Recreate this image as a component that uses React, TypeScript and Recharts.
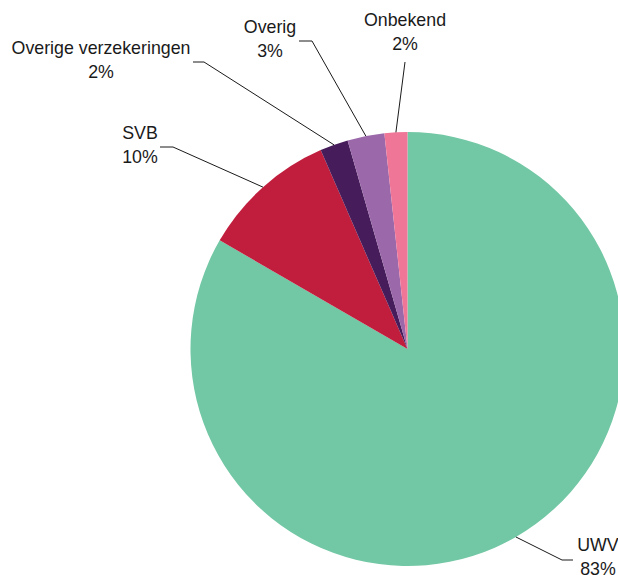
import { PieChart, Pie, Cell } from 'recharts';

const categories = ['UWV', 'SVB', 'Overige verzekeringen', 'Overig', 'Onbekend'];
const shares = [83.35, 10.1, 2.1, 2.75, 1.7];
const colors = ['#72C7A5', '#C11E3E', '#461C5A', '#9B69AA', '#F07698'];

// label placement (text centre of first line, elbow and end of the leader line)
const labelLayout = [
  { tx: 598, ty: 545, ex: 562, ey: 560, hx: 573, hy: 560 },
  { tx: 140, ty: 133, ex: 173, ey: 147, hx: 160, hy: 147 },
  { tx: 101, ty: 48, ex: 204, ey: 62, hx: 193, hy: 62 },
  { tx: 270, ty: 27, ex: 312, ey: 41, hx: 299, hy: 41 },
  { tx: 405, ty: 20, ex: 405, ey: 62, hx: 405, hy: 62 },
];

const data = categories.map((name, i) => ({ name, value: shares[i] }));

const RADIAN = Math.PI / 180;

function renderLabel(props: any) {
  const { cx, cy, midAngle, outerRadius, percent, index, name } = props;
  const l = labelLayout[index];
  const sx = cx + outerRadius * Math.cos(-midAngle * RADIAN);
  const sy = cy + outerRadius * Math.sin(-midAngle * RADIAN);
  return (
    <g key={`lbl-${index}`}>
      <path
        d={`M${sx},${sy}L${l.ex},${l.ey}L${l.hx},${l.hy}`}
        stroke="#1a1a1a"
        strokeWidth={1}
        fill="none"
      />
      <text
        x={l.tx}
        y={l.ty}
        textAnchor="middle"
        dominantBaseline="central"
        fill="#1a1a1a"
        style={{ fontFamily: 'Liberation Sans, Arial, sans-serif', fontSize: 17.8 }}
      >
        {name}
      </text>
      <text
        x={l.tx}
        y={l.ty + 24}
        textAnchor="middle"
        dominantBaseline="central"
        fill="#1a1a1a"
        style={{ fontFamily: 'Liberation Sans, Arial, sans-serif', fontSize: 17.8 }}
      >
        {`${Math.round(percent * 100)}%`}
      </text>
    </g>
  );
}

export default function App() {
  return (
    <div style={{ position: 'absolute', left: 0, top: 0, width: 618, height: 575, background: '#fff' }}>
      <PieChart width={618} height={575} margin={{ top: 0, right: 0, bottom: 0, left: 0 }}>
        <Pie
          data={data}
          dataKey="value"
          nameKey="name"
          cx={407.5}
          cy={349}
          outerRadius={217}
          startAngle={90}
          endAngle={-270}
          stroke="none"
          label={renderLabel}
          labelLine={false}
          isAnimationActive={false}
        >
          {data.map((d, i) => (
            <Cell key={d.name} fill={colors[i]} />
          ))}
        </Pie>
      </PieChart>
    </div>
  );
}
